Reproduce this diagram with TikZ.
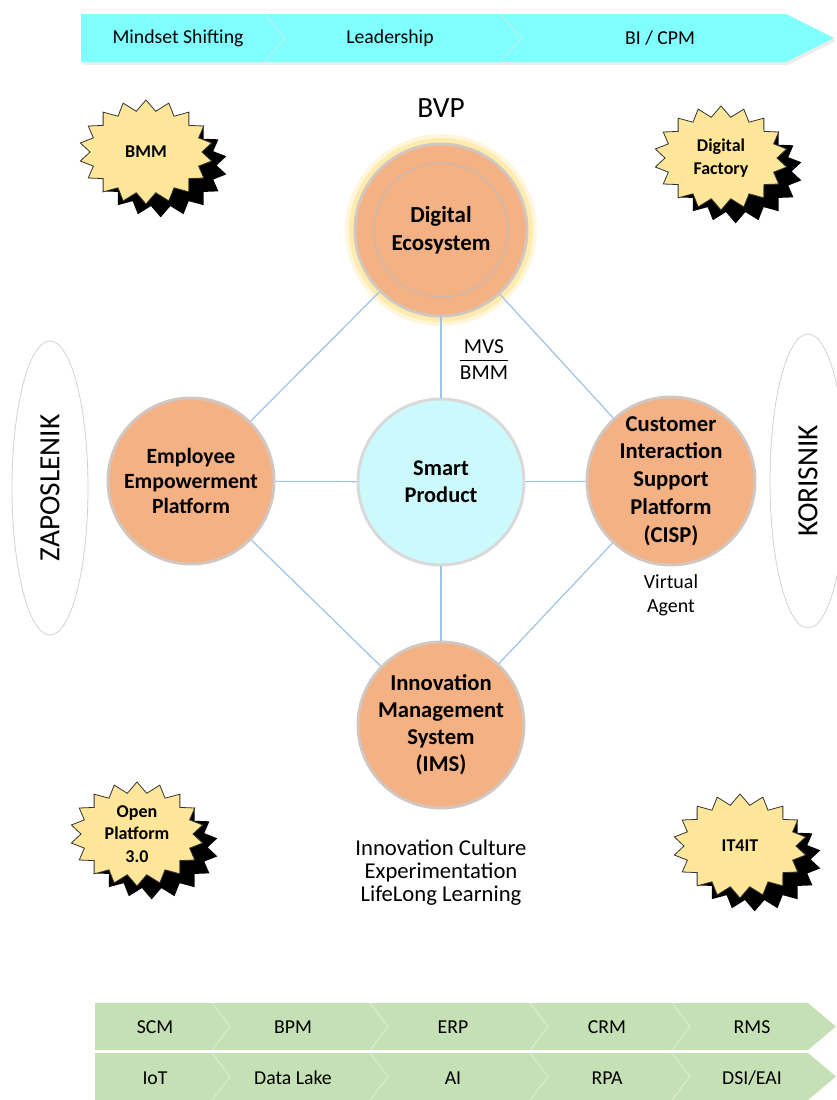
\documentclass[tikz,border=0pt]{standalone}
\usepackage{fontspec}
\setmainfont{Carlito}
\usetikzlibrary{shapes.symbols,shapes.geometric,shadows}
\definecolor{topcyan}{HTML}{80FFFF}
\definecolor{divcyan}{HTML}{B8EEEE}
\definecolor{botgreen}{HTML}{C5E0B4}
\definecolor{divgreen}{HTML}{DDEBD3}
\definecolor{orangeF}{HTML}{F4B183}
\definecolor{glowgray}{HTML}{D2C6C0}
\definecolor{ringgray}{HTML}{C9B9B0}
\definecolor{smartcyan}{HTML}{CCF9FB}
\definecolor{yglow}{HTML}{FFE699}
\definecolor{burstfill}{HTML}{FFE699}
\definecolor{connblue}{HTML}{9DC3E6}
\newcommand\fsz[2]{\fontsize{#1}{#2}\selectfont}
\begin{document}
\begin{tikzpicture}[x=0.75pt,y=-0.75pt,
  bartext/.style={font=\fsz{14.8}{17}, inner sep=0pt},
  orangecirc/.style={circle, fill=orangeF, draw=glowgray, line width=2.2pt, inner sep=0pt,
     minimum size=166*0.75pt, align=center, font=\bfseries\fsz{16.8}{20.5}},
  conn/.style={draw=connblue, line width=0.9pt},
  burst/.style={starburst, starburst points=18, starburst point height=8pt, random starburst=0,
     fill=burstfill, draw=black!80, line width=0.6pt, inner sep=0pt,
     minimum width=100pt, minimum height=78pt, align=center, font=\bfseries\fsz{13.5}{17},
     drop shadow={fill=black, opacity=1, shadow xshift=11pt, shadow yshift=-10pt}},
  sideell/.style={ellipse, draw=gray!35, line width=0.6pt, fill=white, rotate=90,
     minimum width=294*0.75pt, minimum height=76*0.75pt, inner sep=0pt, font=\fsz{22}{26}},
  plain/.style={align=center, inner sep=0pt}]
\useasboundingbox (0,0) rectangle (836,1100);

% ---------- top bar ----------
\fill[gray!15] (83,17) -- (788,17) -- (836,41) -- (788,65) -- (83,65) -- cycle;
\fill[topcyan] (81,14) -- (786,14) -- (834,38) -- (786,62) -- (81,62) -- cycle;
\draw[divcyan, line width=0.8pt] (265,14) -- (285,38) -- (265,62);
\draw[divcyan, line width=0.8pt] (500,14) -- (522,38) -- (500,62);
\node[bartext] (ms) at (178,38) {Mindset Shifting};
\node[bartext] (ld) at (390,38) {Leadership};
\node[bartext] (bi) at (660,38) {BI / CPM};

% ---------- bottom bars ----------
\fill[botgreen] (95,1003) -- (808,1003) -- (836,1026.5) -- (808,1050) -- (95,1050) -- cycle;
\fill[botgreen] (95,1053) -- (808,1053) -- (836,1076.5) -- (808,1100) -- (95,1100) -- cycle;
\foreach \xx in {212,370,530,672}{
  \draw[divgreen, line width=0.8pt] (\xx,1003) -- (\xx+18,1026.5) -- (\xx,1050);
  \draw[divgreen, line width=0.8pt] (\xx,1053) -- (\xx+18,1076.5) -- (\xx,1100);
}
\node[bartext] (scm) at (155,1027) {SCM};
\node[bartext] (bpm) at (293,1027) {BPM};
\node[bartext] (erp) at (453,1027) {ERP};
\node[bartext] (crm) at (607,1027) {CRM};
\node[bartext] (rms) at (752,1027) {RMS};
\node[bartext] (iot) at (155,1078) {IoT};
\node[bartext] (dl) at (293,1078) {Data Lake};
\node[bartext] (ai) at (453,1078) {AI};
\node[bartext] (rpa) at (607,1078) {RPA};
\node[bartext] (dsi) at (752,1078) {DSI/EAI};

% ---------- side ellipses ----------
\node[sideell] (zap) at (50,488) {ZAPOSLENIK};
\node[sideell] (kor) at (808,481) {KORISNIK};

% ---------- starbursts ----------
\node[burst] (bmm) at (146,152) {BMM};
\node[burst] (df) at (721,158) {Digital\\Factory};
\node[burst] (op) at (137,834) {Open\\Platform\\3.0};
\node[burst] (it) at (740,846) {IT4IT};

% ---------- BVP ----------
\node[plain, font=\fsz{22}{26}] (bvp) at (441,108) {BVP};

% ---------- digital ecosystem ----------
\coordinate (dec) at (441,230);
\fill[yglow, opacity=0.35] (dec) circle[radius=96];
\fill[yglow, opacity=0.7] (dec) circle[radius=92];
\node[orangecirc, minimum size=172*0.75pt, font=\bfseries\fsz{17.2}{21}] (de) at (dec) {Digital\\Ecosystem};
\draw[ringgray, line width=1pt] (dec) circle[radius=67];

% ---------- other circles ----------
\node[orangecirc, font=\bfseries\fsz{16.3}{18.75}] (eep) at (191,481) {Employee\\Empowerment\\Platform};
\node[orangecirc, fill=smartcyan, draw=gray!30] (sp) at (441,482) {Smart\\Product};
\node[orangecirc, minimum size=168*0.75pt, font=\bfseries\fsz{17}{20.8}] (cisp) at (671,481) {Customer\\Interaction\\Support\\Platform\\(CISP)};
\node[orangecirc, font=\bfseries\fsz{17}{20.3}] (ims) at (441,725) {Innovation\\Management\\System\\(IMS)};

% ---------- connectors ----------
\draw[conn] (de) -- (eep);
\draw[conn] (de) -- (cisp);
\draw[conn] (de) -- (sp);
\draw[conn] (eep) -- (sp);
\draw[conn] (sp) -- (cisp);
\draw[conn] (eep) -- (ims);
\draw[conn] (cisp) -- (ims);
\draw[conn] (sp) -- (ims);

% ---------- labels ----------
\node[plain, font=\fsz{16}{19.5}] (mvs) at (484,361) {\begin{tabular}{@{}c@{}}MVS\\[-1pt]\hline\rule{0pt}{14pt}BMM\end{tabular}};
\node[plain, font=\fsz{15}{18}] (va) at (671,595) {Virtual\\Agent};
\node[plain, font=\fsz{17}{17.25}] (ic) at (441,873) {Innovation Culture\\Experimentation\\LifeLong Learning};
\end{tikzpicture}
\end{document}
